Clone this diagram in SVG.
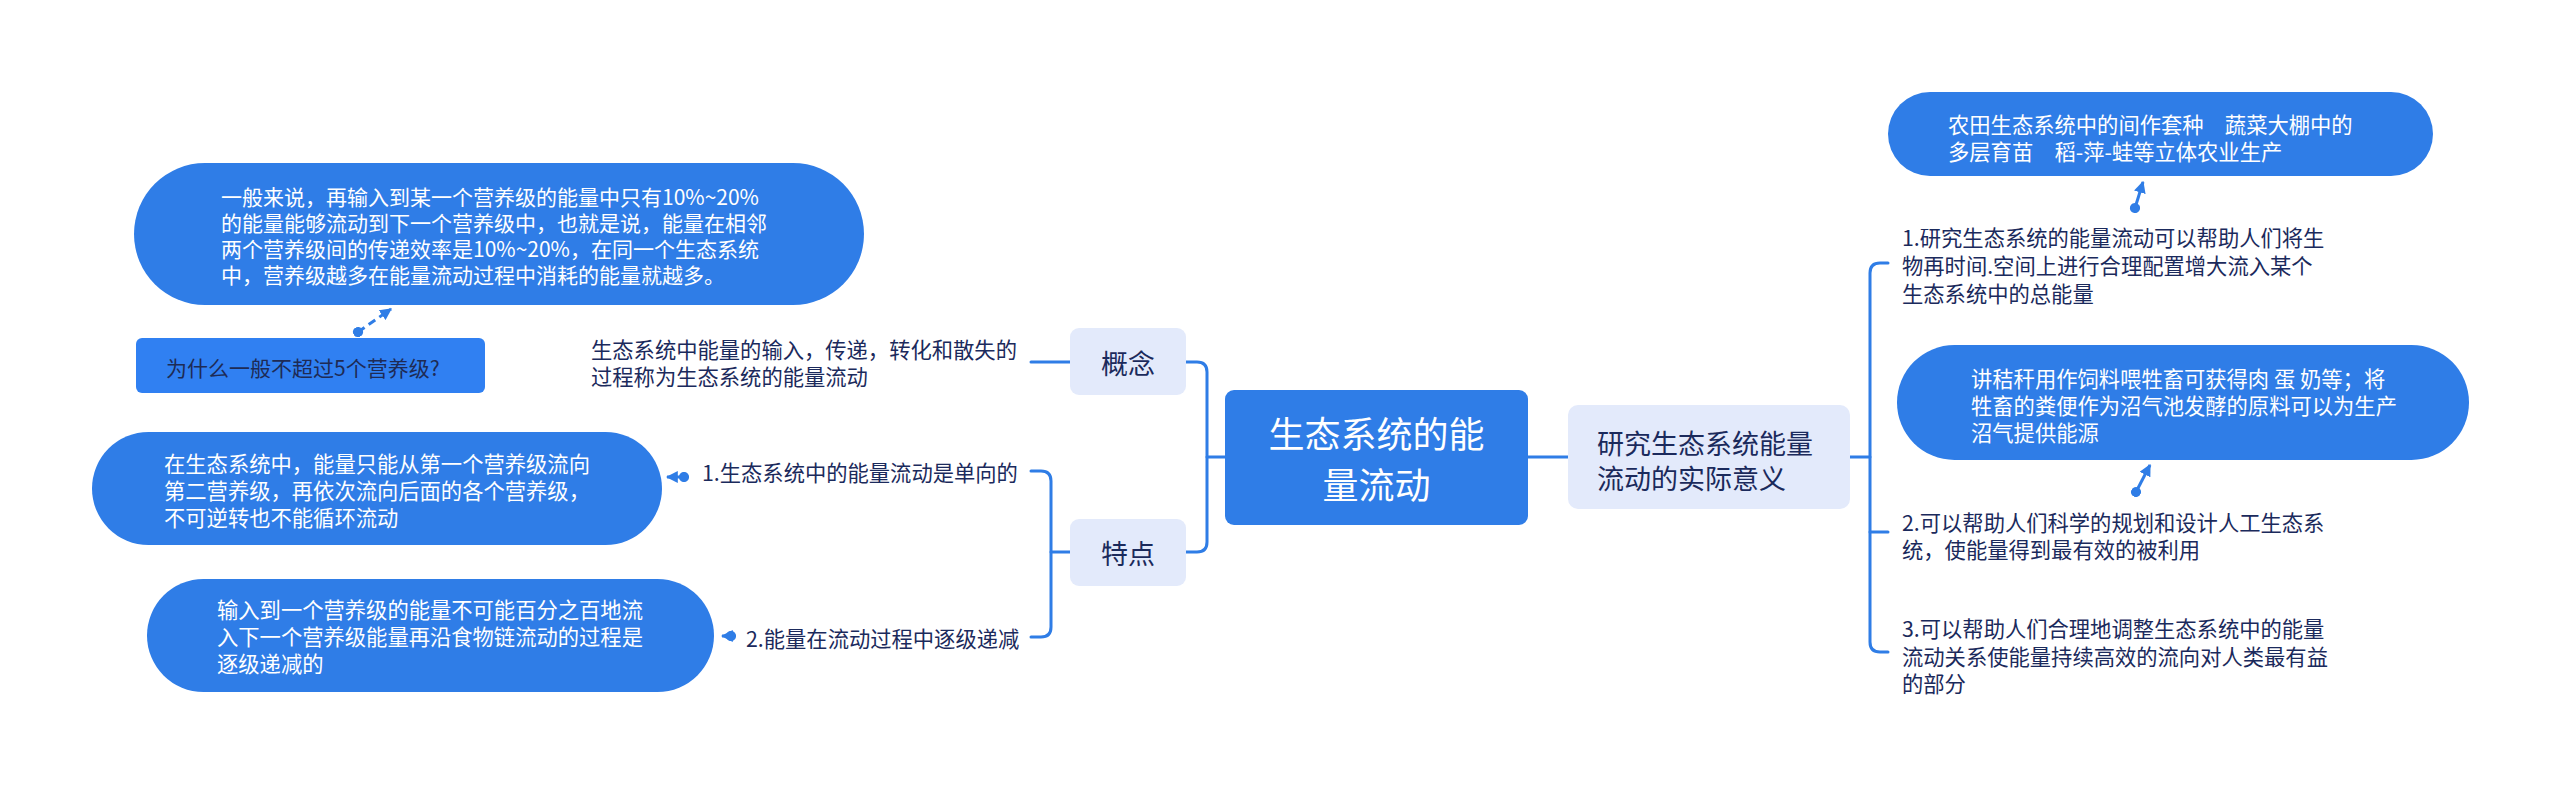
<svg xmlns="http://www.w3.org/2000/svg" width="2560" height="795" viewBox="0 0 2560 795">
<style>
text{font-family:"Noto Sans CJK SC","Noto Sans",sans-serif;dominant-baseline:central}
.pill{fill:#2f7de7}
.light{fill:#e3eafb}
.w{fill:#ffffff;font-size:21.3px}
.w2{fill:#ffffff;font-size:21px}
.d{fill:#1b2a5c;font-size:21.3px}
.sub{fill:#1b2a5c;font-size:27px}
.conn{fill:none;stroke:#2f7de6;stroke-width:3;stroke-linecap:round}
.arr{fill:none;stroke:#2f7de6;stroke-width:3}
</style>
<defs>
<marker id="ah" viewBox="0 0 10 10" refX="9" refY="5" markerWidth="4" markerHeight="4" orient="auto" markerUnits="strokeWidth"><path d="M0,0 L10,5 L0,10 z" fill="#2f7de6"/></marker>
<marker id="dot" viewBox="0 0 10 10" refX="5" refY="5" markerWidth="3.4" markerHeight="3.4" orient="auto" markerUnits="strokeWidth"><circle cx="5" cy="5" r="5" fill="#2f7de6"/></marker>
</defs>
<rect width="2560" height="795" fill="#ffffff"/>

<g id="connectors">
<path class="conn" d="M1225,457 H1207"/>
<path class="conn" d="M1186,362 H1197 Q1207,362 1207,372 V542 Q1207,552 1197,552 H1186"/>
<path class="conn" d="M1070,362 H1031"/>
<path class="conn" d="M1070,552 H1051"/>
<path class="conn" d="M1031,471 H1041 Q1051,471 1051,481 V627 Q1051,637 1041,637 H1031"/>
<path class="conn" d="M1528,457 H1568"/>
<path class="conn" d="M1850,457 H1870"/>
<path class="conn" d="M1888,263 H1880 Q1870,263 1870,273 V642 Q1870,652 1880,652 H1888"/>
<path class="conn" d="M1870,532 H1888"/>
<path class="arr" d="M358,332 L391,309" stroke-dasharray="8,5" marker-start="url(#dot)" marker-end="url(#ah)"/>
<path class="arr" d="M684,477 L667,477" marker-start="url(#dot)" marker-end="url(#ah)"/>
<path class="arr" d="M731,636 L722,636" marker-start="url(#dot)" marker-end="url(#ah)"/>
<path class="arr" d="M2135,208 L2143,182" marker-start="url(#dot)" marker-end="url(#ah)"/>
<path class="arr" d="M2136,492 L2150,465" marker-start="url(#dot)" marker-end="url(#ah)"/>
</g>

<g id="center">
<rect x="1225" y="390" width="303" height="135" rx="9" fill="#2f7de7"/>
<text x="1376.5" y="432" font-size="36" fill="#ffffff" text-anchor="middle">生态系统的能</text>
<text x="1376.5" y="483" font-size="36" fill="#ffffff" text-anchor="middle">量流动</text>
</g>

<g id="concept">
<rect class="light" x="1070" y="328" width="116" height="67" rx="9"/>
<text class="sub" x="1128" y="362" text-anchor="middle">概念</text>
</g>

<g id="concept-text">
<text class="d" x="591" y="348">生态系统中能量的输入，传递，转化和散失的</text>
<text class="d" x="591" y="375">过程称为生态系统的能量流动</text>
</g>

<g id="concept-note">
<rect class="pill" x="134" y="163" width="730" height="142" rx="71"/>
<text class="w2" x="221" y="196">一般来说，再输入到某一个营养级的能量中只有10%~20%</text>
<text class="w2" x="221" y="222">的能量能够流动到下一个营养级中，也就是说，能量在相邻</text>
<text class="w2" x="221" y="248">两个营养级间的传递效率是10%~20%，在同一个生态系统</text>
<text class="w2" x="221" y="274">中，营养级越多在能量流动过程中消耗的能量就越多。</text>
</g>

<g id="question">
<rect x="136" y="338" width="349" height="55" rx="6" fill="#3080f2"/>
<text x="166" y="367" font-size="21" fill="#1e2b55">为什么一般不超过5个营养级?</text>
</g>

<g id="feature">
<rect class="light" x="1070" y="519" width="116" height="67" rx="9"/>
<text class="sub" x="1128" y="552" text-anchor="middle">特点</text>
</g>

<g id="feature-1">
<text class="d" x="702" y="471">1.生态系统中的能量流动是单向的</text>
</g>

<g id="feature-1-note">
<rect class="pill" x="92" y="432" width="570" height="113" rx="56.5"/>
<text class="w" x="164" y="462">在生态系统中，能量只能从第一个营养级流向</text>
<text class="w" x="164" y="489">第二营养级，再依次流向后面的各个营养级，</text>
<text class="w" x="164" y="516">不可逆转也不能循环流动</text>
</g>

<g id="feature-2">
<text class="d" x="746" y="637">2.能量在流动过程中逐级递减</text>
</g>

<g id="feature-2-note">
<rect class="pill" x="147" y="579" width="567" height="113" rx="56.5"/>
<text class="w" x="217" y="608">输入到一个营养级的能量不可能百分之百地流</text>
<text class="w" x="217" y="635">入下一个营养级能量再沿食物链流动的过程是</text>
<text class="w" x="217" y="662">逐级递减的</text>
</g>

<g id="meaning">
<rect class="light" x="1568" y="405" width="282" height="104" rx="10"/>
<text class="sub" x="1597" y="442">研究生态系统能量</text>
<text class="sub" x="1597" y="477">流动的实际意义</text>
</g>

<g id="meaning-1">
<text class="d" x="1902" y="236">1.研究生态系统的能量流动可以帮助人们将生</text>
<text class="d" x="1902" y="264">物再时间.空间上进行合理配置增大流入某个</text>
<text class="d" x="1902" y="292">生态系统中的总能量</text>
</g>

<g id="meaning-1-note">
<rect class="pill" x="1888" y="92" width="545" height="84" rx="42"/>
<text class="w" x="1948" y="123">农田生态系统中的间作套种　蔬菜大棚中的</text>
<text class="w" x="1948" y="150">多层育苗　稻-萍-蛙等立体农业生产</text>
</g>

<g id="meaning-2">
<text class="d" x="1902" y="521">2.可以帮助人们科学的规划和设计人工生态系</text>
<text class="d" x="1902" y="548">统，使能量得到最有效的被利用</text>
</g>

<g id="meaning-2-note">
<rect class="pill" x="1897" y="345" width="572" height="115" rx="57.5"/>
<text class="w" x="1971" y="377">讲秸秆用作饲料喂牲畜可获得肉 蛋 奶等；将</text>
<text class="w" x="1971" y="404">牲畜的粪便作为沼气池发酵的原料可以为生产</text>
<text class="w" x="1971" y="431">沼气提供能源</text>
</g>

<g id="meaning-3">
<text class="d" x="1902" y="627">3.可以帮助人们合理地调整生态系统中的能量</text>
<text class="d" x="1902" y="655">流动关系使能量持续高效的流向对人类最有益</text>
<text class="d" x="1902" y="682">的部分</text>
</g>
</svg>
